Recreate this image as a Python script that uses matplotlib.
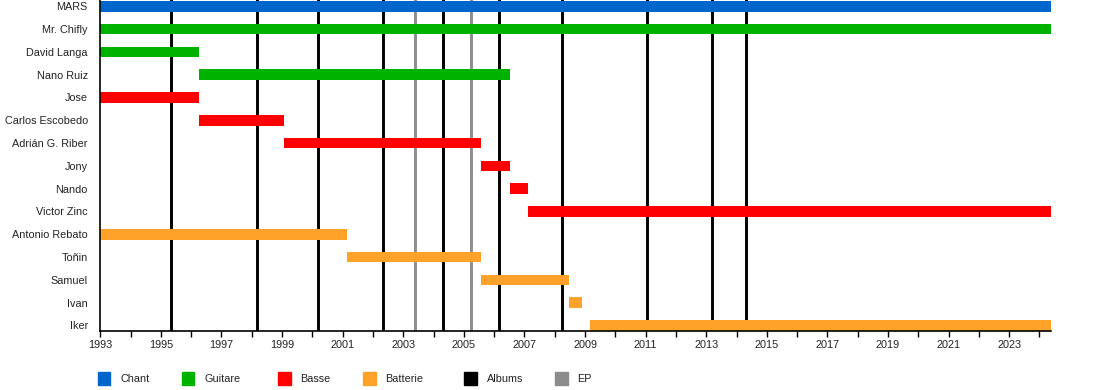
import matplotlib
matplotlib.use("Agg")
import matplotlib.pyplot as plt
from matplotlib.patches import Rectangle
from matplotlib.ticker import MultipleLocator

plt.rcParams['font.family'] = ['Liberation Sans', 'DejaVu Sans']

# --- data ---
END = 2024.37
members = ["MARS", "Mr. Chifly", "David Langa", "Nano Ruiz", "Jose",
           "Carlos Escobedo", "Adrián G. Riber", "Jony", "Nando", "Victor Zinc",
           "Antonio Rebato", "Toñin", "Samuel", "Ivan", "Iker"]
starts = [1993, 1993, 1993, 1996.26, 1993,
          1996.26, 1999.06, 2005.56, 2006.52, 2007.12,
          1993, 2001.14, 2005.56, 2008.47, 2009.16]
ends = [END, END, 1996.26, 2006.52, 1996.26,
        1999.06, 2005.56, 2006.52, 2007.12, END,
        2001.14, 2005.56, 2008.47, 2008.90, END]
roles = ["Chant", "Guitare", "Guitare", "Guitare", "Basse",
         "Basse", "Basse", "Basse", "Basse", "Basse",
         "Batterie", "Batterie", "Batterie", "Batterie", "Batterie"]

albums = [1995.34, 1998.18, 2000.19, 2002.34, 2004.32, 2006.17,
          2008.25, 2011.05, 2013.20, 2014.30]
eps = [2003.40, 2005.24]

colors = {"Chant": "#0066cc", "Guitare": "#00b200", "Basse": "#ff0000",
          "Batterie": "#ffa229", "Albums": "#000000", "EP": "#8c8c8c"}
legend_items = ["Chant", "Guitare", "Basse", "Batterie", "Albums", "EP"]
legend_x = [97.7, 181.7, 278, 363, 464, 555]  # pixel positions of legend squares

W, H = 1100, 390
fig = plt.figure(figsize=(W / 100, H / 100), dpi=100)
ax = fig.add_axes([100.3 / W, 59.5 / H, (1050.7 - 100.3) / W, 330.5 / H])

for x in albums:
    ax.axvline(x, color=colors["Albums"], lw=2.1, zorder=1)
for x in eps:
    ax.axvline(x, color=colors["EP"], lw=2.1, zorder=1)

ys = list(range(len(members)))
ax.barh(ys, [e - s for s, e in zip(starts, ends)], left=starts, height=0.47,
        color=[colors[r] for r in roles], zorder=2)

ax.set_xlim(1993, END)
ax.set_ylim(14.22, -0.276)
ax.set_yticks(ys)
ax.set_yticklabels(members, fontsize=7.8, color="#222222")
ax.tick_params(axis='y', length=0, pad=9)
ax.xaxis.set_major_locator(MultipleLocator(2, offset=1))
ax.xaxis.set_minor_locator(MultipleLocator(1))
ax.tick_params(axis='x', which='both', length=4, width=1, direction='out',
               labelsize=7.8, pad=3, labelcolor="#222222")
ax.set_xticklabels([str(int(round(t))) for t in ax.get_xticks()])

for s in ["top", "right"]:
    ax.spines[s].set_visible(False)
ax.spines["left"].set_linewidth(1.2)
ax.spines["bottom"].set_linewidth(1.2)

# legend below the chart
for name, px in zip(legend_items, legend_x):
    fig.patches.append(Rectangle((px / W, (H - 385) / H), 12.5 / W, 13 / H,
                                 transform=fig.transFigure, color=colors[name]))
    fig.text((px + 22.5) / W, (H - 379) / H, name, fontsize=7.8,
             va='center', ha='left', color="#222222")

fig.savefig("out.png", dpi=100)
